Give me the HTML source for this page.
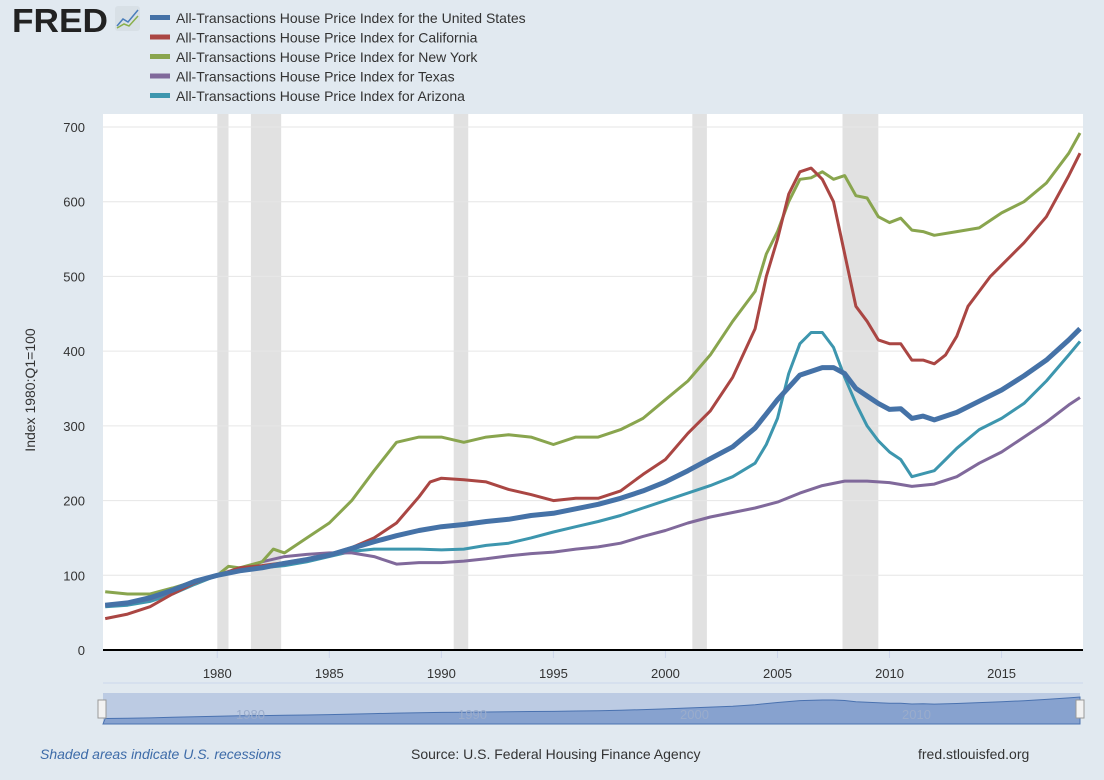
<!DOCTYPE html>
<html><head><meta charset="utf-8"><style>
body{margin:0;width:1104px;height:775px;background:#e1e9f0;font-family:"Liberation Sans",sans-serif;overflow:hidden}
svg text{font-family:"Liberation Sans",sans-serif}
</style></head><body>
<svg id="c" width="1104" height="775">
<text x="12" y="32" font-size="33" font-weight="bold" fill="#222" textLength="96" lengthAdjust="spacingAndGlyphs">FRED</text>
<rect x="115" y="6" width="25" height="25" rx="3" fill="#d8e0e6"/>
<polyline points="117,26 123,19 128,22 138,10" fill="none" stroke="#4a7ebb" stroke-width="1.5"/>
<polyline points="117,28 124,24 129,26 138,16" fill="none" stroke="#8ab04b" stroke-width="1.5"/>
<g id="legend"></g>
<rect x="103" y="114" width="980" height="537" fill="#fff"/>
<g id="rec"></g><g id="grid"></g><g id="lines"></g><g id="axes"></g>
<text transform="translate(35,390) rotate(-90)" text-anchor="middle" font-size="14" fill="#333">Index 1980:Q1=100</text>
<g>
<rect x="103" y="693" width="977" height="31" fill="#bccbe3"/>
<path id="navpath" fill="#87a2cf" stroke="#4a72b0" stroke-width="1"/>
<text x="236" y="719" font-size="13" fill="#9aaccb">1980</text><text x="458" y="719" font-size="13" fill="#9aaccb">1990</text><text x="680" y="719" font-size="13" fill="#9aaccb">2000</text><text x="902" y="719" font-size="13" fill="#9aaccb">2010</text>
<rect x="98" y="700" width="8" height="18" fill="#f2f2f2" stroke="#999"/>
<rect x="1076" y="700" width="8" height="18" fill="#f2f2f2" stroke="#999"/>
</g>
<text x="40" y="759" font-size="14" font-style="italic" fill="#3d6ba8">Shaded areas indicate U.S. recessions</text>
<text x="411" y="759" font-size="14" fill="#333">Source: U.S. Federal Housing Finance Agency</text>
<text x="918" y="759" font-size="14" fill="#333">fred.stlouisfed.org</text>
</svg>
<script>
const yTicks=[0,100,200,300,400,500,600,700];
const xTicks=[1980,1985,1990,1995,2000,2005,2010,2015];
const recessions=[[1980.0,1980.5],[1981.5,1982.85],[1990.55,1991.2],[2001.2,2001.85],[2007.9,2009.5]];
const seriesNames=["All-Transactions House Price Index for the United States","All-Transactions House Price Index for California","All-Transactions House Price Index for New York","All-Transactions House Price Index for Texas","All-Transactions House Price Index for Arizona"];
const seriesColors=["#4572a7","#aa4643","#89a54e","#80699b","#3d96ae"];
const usYears=[1975,1976,1977,1978,1979,1980,1981,1982,1983,1984,1985,1986,1987,1988,1989,1990,1991,1992,1993,1994,1995,1996,1997,1998,1999,2000,2001,2002,2003,2004,2005,2006,2007,2007.5,2008,2008.5,2009,2009.5,2010,2010.5,2011,2011.5,2012,2013,2014,2015,2016,2017,2018,2018.5];
const usVals=[60,63,70,80,92,100,106,110,116,121,127,136,145,153,160,165,168,172,175,180,183,189,195,203,213,225,240,256,272,297,335,368,378,378,370,350,340,330,322,323,310,313,308,318,333,348,367,388,415,430];
const caYears=[1975,1976,1977,1978,1979,1980,1981,1982,1983,1984,1985,1986,1987,1988,1989,1989.5,1990,1991,1992,1993,1994,1995,1996,1997,1998,1999,2000,2001,2002,2003,2004,2004.5,2005,2005.5,2006,2006.5,2007,2007.5,2008,2008.5,2009,2009.5,2010,2010.5,2011,2011.5,2012,2012.5,2013,2013.5,2014,2014.5,2015,2016,2017,2018,2018.5];
const caVals=[42,48,58,75,90,100,110,113,117,122,128,137,150,170,205,225,230,228,225,215,208,200,203,203,213,235,255,290,320,365,430,500,550,610,640,645,630,600,530,460,440,415,410,410,388,388,383,395,420,460,480,500,515,545,580,635,665];
const nyYears=[1975,1976,1977,1978,1979,1980,1980.5,1981,1982,1982.5,1983,1984,1985,1986,1987,1988,1989,1990,1991,1992,1993,1994,1995,1996,1997,1998,1999,2000,2001,2002,2003,2004,2004.5,2005,2005.5,2006,2006.5,2007,2007.5,2008,2008.5,2009,2009.5,2010,2010.5,2011,2011.5,2012,2013,2014,2015,2016,2017,2018,2018.5];
const nyVals=[78,75,75,83,92,100,112,110,118,135,130,150,170,200,240,278,285,285,278,285,288,285,275,285,285,295,310,335,360,395,440,480,530,560,600,630,632,640,630,635,608,605,580,572,578,562,560,555,560,565,585,600,625,665,692];
const txYears=[1975,1976,1977,1978,1979,1980,1981,1982,1983,1984,1985,1986,1987,1988,1989,1990,1991,1992,1993,1994,1995,1996,1997,1998,1999,2000,2001,2002,2003,2004,2005,2006,2007,2008,2009,2010,2011,2012,2013,2014,2015,2016,2017,2018,2018.5];
const txVals=[60,62,68,78,90,100,108,118,125,128,130,130,125,115,117,117,119,122,126,129,131,135,138,143,152,160,170,178,184,190,198,210,220,226,226,224,219,222,232,250,265,285,305,328,338];
const azYears=[1975,1976,1977,1978,1979,1980,1981,1982,1983,1984,1985,1986,1987,1988,1989,1990,1991,1992,1993,1994,1995,1996,1997,1998,1999,2000,2001,2002,2003,2004,2004.5,2005,2005.5,2006,2006.5,2007,2007.5,2008,2008.5,2009,2009.5,2010,2010.5,2011,2011.5,2012,2012.5,2013,2014,2015,2016,2017,2018,2018.5];
const azVals=[58,60,65,75,88,100,105,110,113,118,125,132,135,135,135,134,135,140,143,150,158,165,172,180,190,200,210,220,232,250,275,310,370,410,425,425,405,365,330,300,280,265,255,232,236,240,255,270,295,310,330,360,395,413];
const series=[[usYears,usVals],[caYears,caVals],[nyYears,nyVals],[txYears,txVals],[azYears,azVals]];
const NS="http://www.w3.org/2000/svg";
const x0=103,x1=1080,t0=1974.9,t1=2018.5,yTop=127,yBot=650;
const X=t=>x0+(t-t0)/(t1-t0)*(x1-x0);
const Y=v=>yBot-v/700*(yBot-yTop);
function mk(tag,attrs,parent){const e=document.createElementNS(NS,tag);for(const k in attrs)e.setAttribute(k,attrs[k]);document.getElementById(parent).appendChild(e);return e;}
recessions.forEach(r=>{const e=mk('rect',{x:X(r[0]),y:114,width:X(r[1])-X(r[0]),height:536,fill:'#e1e1e1'},'rec');

});
yTicks.forEach(v=>{if(v>0){const l=mk('line',{x1:x0,x2:x1+3,y1:Y(v),y2:Y(v),stroke:'#e6e6e6'},'grid');

}
const t=mk('text',{x:85,y:Y(v)+5,'text-anchor':'end','font-size':13,fill:'#333'},'axes');t.textContent=v;

});
xTicks.forEach(v=>{mk('line',{x1:X(v),x2:X(v),y1:651,y2:658,stroke:'#ccd6eb'},'axes');
const t=mk('text',{x:X(v),y:678,'text-anchor':'middle','font-size':13,fill:'#333'},'axes');t.textContent=v;

});
const ax=mk('line',{x1:x0,x2:x1+3,y1:650,y2:650,stroke:'#000','stroke-width':2},'axes');


mk('line',{x1:x0,x2:x1+3,y1:683,y2:683,stroke:'#ccd6eb'},'axes');
const order=[4,3,2,1,0];
order.forEach(i=>{const [ys,vs]=series[i];const d=ys.map((t,j)=>(j?'L':'M')+X(t).toFixed(1)+','+Y(vs[j]).toFixed(1)).join('');
const p=mk('path',{d:d,fill:'none',stroke:seriesColors[i],'stroke-width':i==0?5:3,'stroke-linejoin':'round'},'lines');

});
seriesNames.forEach((n,i)=>{const y=18+i*19.5;
mk('rect',{x:150,y:y-3,width:20,height:5,fill:seriesColors[i]},'legend');
const t=mk('text',{x:176,y:y+5,'font-size':14,fill:'#333'},'legend');t.textContent=n;

});
const nb=722,nt=697,NY=v=>nb-v/430*(nb-nt);
let nd='M'+x0+','+724+usYears.map((t,j)=>'L'+X(t).toFixed(1)+','+NY(usVals[j]).toFixed(1)).join('')+'L'+x1+',724Z';
document.getElementById('navpath').setAttribute('d',nd);
</script>
</body></html>
